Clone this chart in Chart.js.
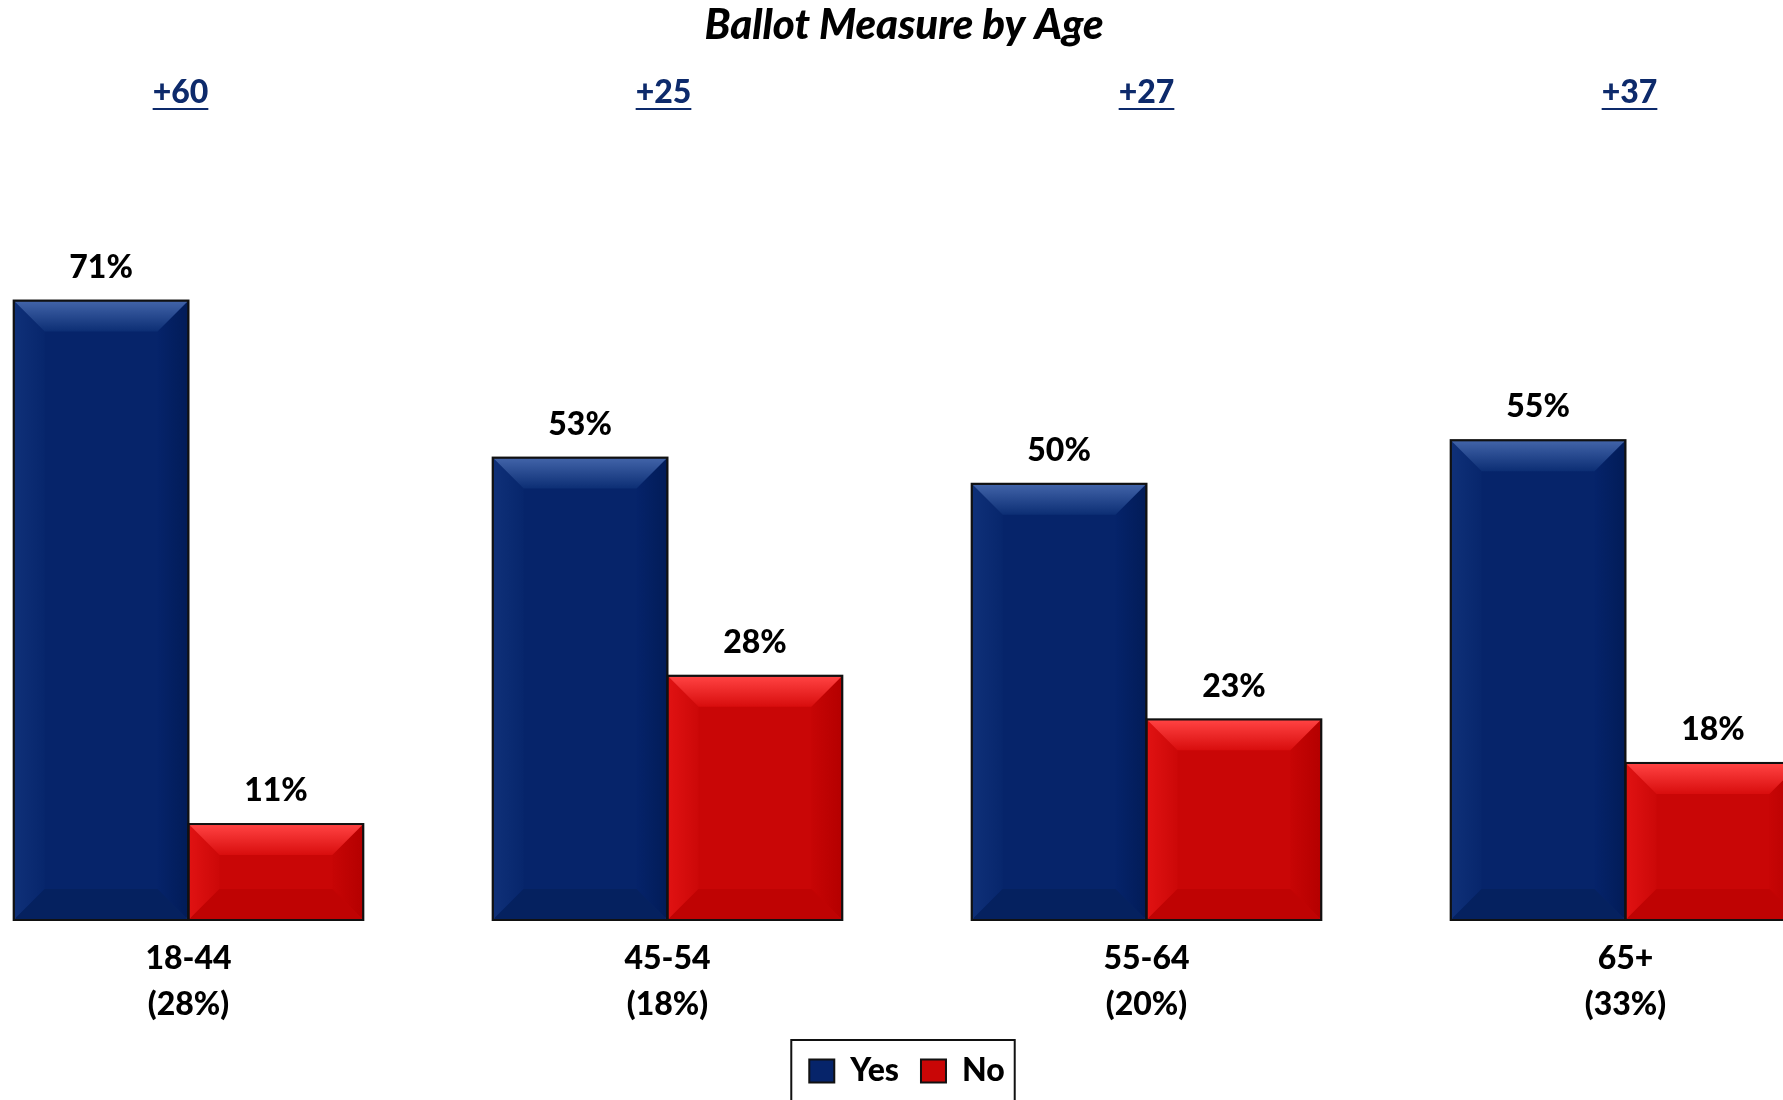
<!DOCTYPE html>
<html>
<head>
<meta charset="utf-8">
<title>Ballot Measure by Age</title>
<script src="https://cdn.jsdelivr.net/npm/chart.js@4.4.1/dist/chart.umd.min.js"></script>
<style>
  html, body { margin: 0; padding: 0; background: #fff; overflow: hidden; }
  #wrap { position: absolute; left: -51px; top: 0; width: 1916px; height: 1100px; }
</style>
</head>
<body>
<div id="wrap"><canvas id="chart"></canvas></div>
<script>
// Data
const CATEGORIES = [['18-44', '(28%)'], ['45-54', '(18%)'], ['55-64', '(20%)'], ['65+', '(33%)']];
const YES = [71, 53, 50, 55];
const NO  = [11, 28, 23, 18];
const MARGINS = ['+60', '+25', '+27', '+37'];
const TITLE = 'Ballot Measure by Age';

const FONT = 'Lato, "Open Sans", sans-serif';
const WEIGHT = '900';

// bevel shading per series
const SHADES = {
  Yes: { base: '#06246a', topA: '#4163a8', topB: '#0c2e74', leftA: '#0f3078', leftB: '#07266c', rightA: '#05236a', rightB: '#021c58', bottom: '#05215f' },
  No:  { base: '#c90606', topA: '#ff4242', topB: '#d80d0d', leftA: '#e01212', leftB: '#cc0808', rightA: '#c70505', rightB: '#b50000', bottom: '#bf0303' },
};

const BEVEL = 30;

const bevelPlugin = {
  id: 'bevel',
  afterDatasetsDraw(chart) {
    const ctx = chart.ctx;
    chart.data.datasets.forEach((ds, di) => {
      const sh = SHADES[ds.label];
      chart.getDatasetMeta(di).data.forEach((bar) => {
        const L = bar.x - bar.width / 2 + 1, R = bar.x + bar.width / 2 - 1;
        const T = bar.y + 1, B = bar.base - 1;
        const b = Math.min(BEVEL, (B - T) / 2, (R - L) / 2);
        ctx.save();
        const poly = (pts, fill) => {
          ctx.beginPath();
          ctx.moveTo(pts[0][0], pts[0][1]);
          pts.slice(1).forEach((p) => ctx.lineTo(p[0], p[1]));
          ctx.closePath();
          ctx.fillStyle = fill;
          ctx.fill();
        };
        const gl = ctx.createLinearGradient(L, 0, L + b, 0);
        gl.addColorStop(0, sh.leftA);
        gl.addColorStop(1, sh.leftB);
        poly([[L, T], [L + b, T + b], [L + b, B - b], [L, B]], gl);
        const gr = ctx.createLinearGradient(R - b, 0, R, 0);
        gr.addColorStop(0, sh.rightA);
        gr.addColorStop(1, sh.rightB);
        poly([[R, T], [R, B], [R - b, B - b], [R - b, T + b]], gr);
        poly([[L, B], [L + b, B - b], [R - b, B - b], [R, B]], sh.bottom);
        const g = ctx.createLinearGradient(0, T, 0, T + b);
        g.addColorStop(0, sh.topA);
        g.addColorStop(1, sh.topB);
        poly([[L, T], [R, T], [R - b, T + b], [L + b, T + b]], g);
        ctx.strokeStyle = '#111';
        ctx.lineWidth = 2;
        ctx.strokeRect(bar.x - bar.width / 2, bar.y, bar.width, bar.base - bar.y);
        ctx.restore();
      });
    });
  },
};

const labelsPlugin = {
  id: 'valueLabels',
  afterDraw(chart) {
    const ctx = chart.ctx;
    const xs = chart.scales.x;
    ctx.save();
    ctx.textAlign = 'center';
    ctx.textBaseline = 'middle';

    // value labels above bars
    ctx.fillStyle = '#000';
    ctx.font = `${WEIGHT} 32px ${FONT}`;
    chart.data.datasets.forEach((ds, di) => {
      chart.getDatasetMeta(di).data.forEach((bar, i) => {
        ctx.fillText(ds.data[i] + '%', bar.x, bar.y - 33);
      });
    });

    // title
    ctx.font = `italic ${WEIGHT} 42px ${FONT}`;
    ctx.fillText(TITLE, chart.width / 2 - 3, 25);

    // margin labels, underlined
    ctx.font = `${WEIGHT} 32px ${FONT}`;
    ctx.fillStyle = '#0d2a6b';
    ctx.strokeStyle = '#0d2a6b';
    ctx.lineWidth = 2;
    MARGINS.forEach((m, i) => {
      const x = xs.getPixelForValue(i) + (i - 2) * 4;
      ctx.fillText(m, x, 93);
      const w = ctx.measureText(m).width;
      ctx.beginPath();
      ctx.moveTo(x - w / 2, 109);
      ctx.lineTo(x + w / 2, 109);
      ctx.stroke();
    });

    // frame around legend
    const hb = chart.legend.legendHitBoxes;
    if (hb && hb.length) {
      const first = hb[0], last = hb[hb.length - 1];
      const cy = first.top + first.height / 2;
      const left = first.left - 18;
      ctx.strokeStyle = '#111';
      ctx.lineWidth = 2;
      ctx.strokeRect(left, cy - 31, last.left + last.width + 10 - left, 66);
    }
    ctx.restore();
  },
};

new Chart(document.getElementById('chart'), {
  type: 'bar',
  data: {
    labels: CATEGORIES,
    datasets: [
      { label: 'Yes', data: YES, backgroundColor: SHADES.Yes.base, borderColor: '#111', borderWidth: 2,
        categoryPercentage: 0.73, barPercentage: 1.0 },
      { label: 'No', data: NO, backgroundColor: SHADES.No.base, borderColor: '#111', borderWidth: 2,
        categoryPercentage: 0.73, barPercentage: 1.0 },
    ],
  },
  options: {
    animation: false,
    responsive: true,
    maintainAspectRatio: false,
    layout: { padding: { top: 222, bottom: 3, left: 0, right: 0 } },
    plugins: {
      title: { display: false },
      tooltip: { enabled: false },
      legend: {
        position: 'bottom',
        labels: {
          color: '#000',
          font: { family: FONT, size: 32, weight: WEIGHT },
          boxWidth: 25,
          boxHeight: 23,
          padding: 22,
        },
      },
    },
    scales: {
      x: {
        grid: { display: false },
        border: { display: false },
        ticks: {
          color: '#000',
          padding: 8,
          font: { family: FONT, size: 32, weight: WEIGHT, lineHeight: 1.4375 },
        },
        afterFit: (scale) => { scale.height -= 3; },
      },
      y: { display: false, min: 0, max: 80 },
    },
  },
  plugins: [bevelPlugin, labelsPlugin],
});
</script>
</body>
</html>
